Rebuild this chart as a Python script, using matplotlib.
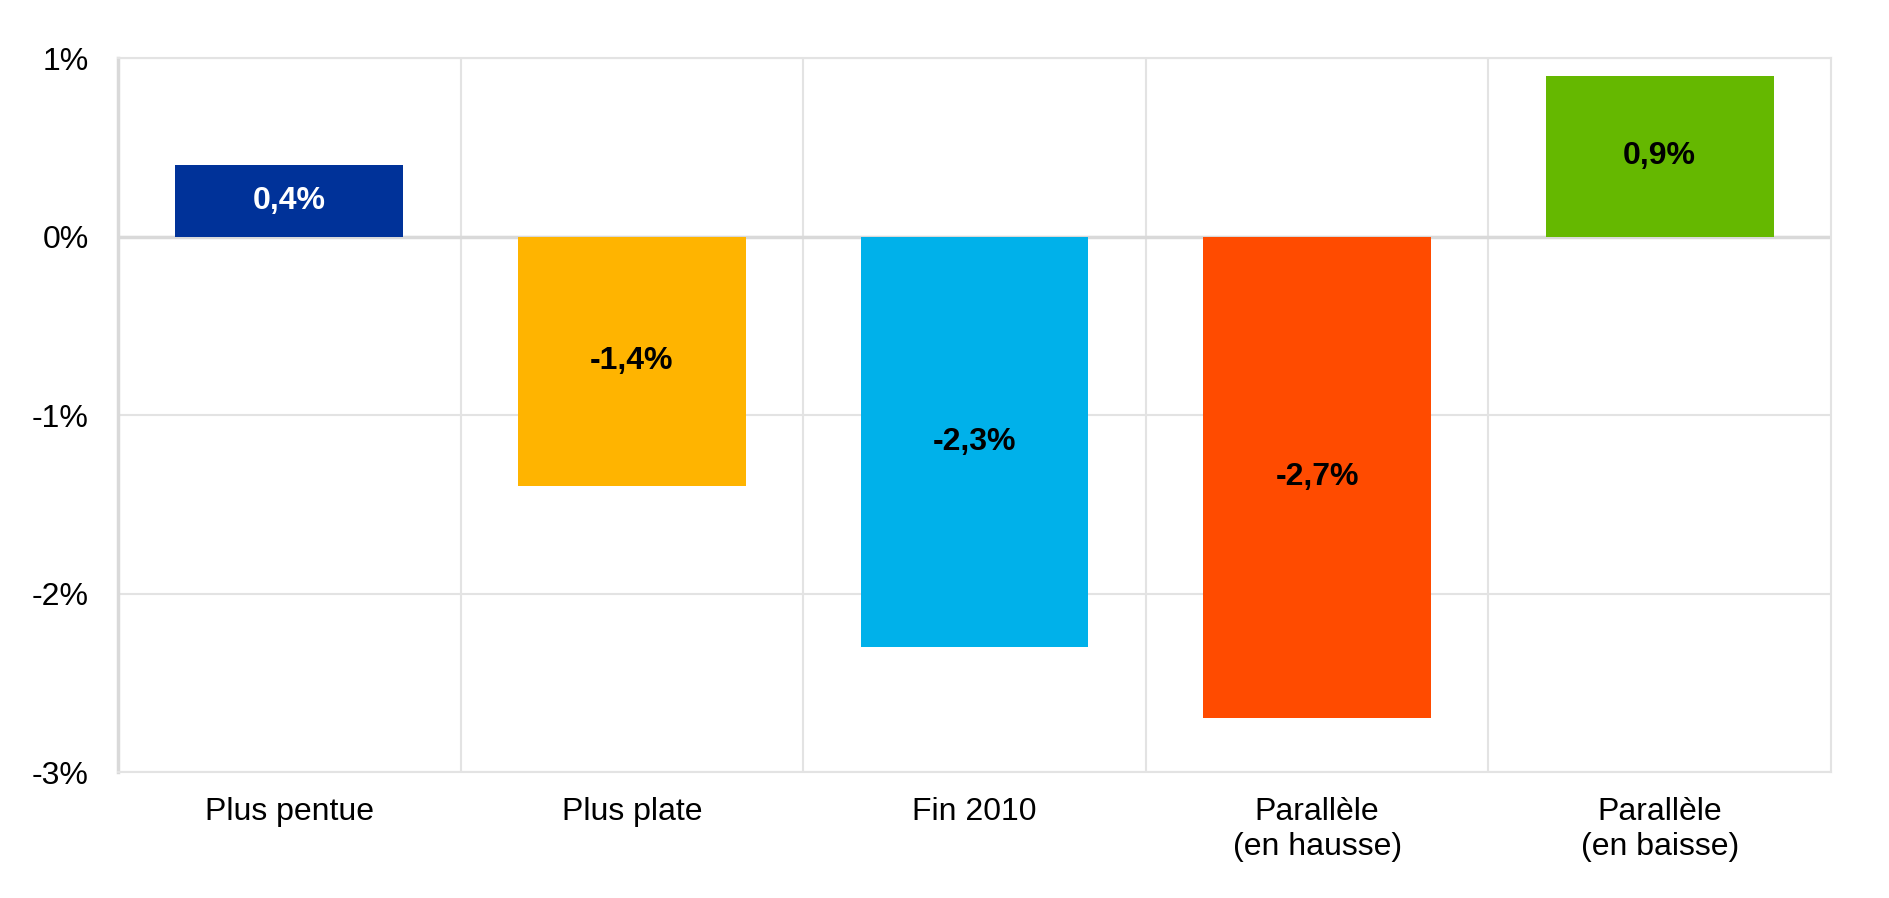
import matplotlib.pyplot as plt
import numpy as np

plt.rcParams['font.family'] = ['Liberation Sans', 'DejaVu Sans']

categories = ['Plus pentue', 'Plus plate', 'Fin 2010', 'Parallèle\n(en hausse)', 'Parallèle\n(en baisse)']
values = [0.4, -1.4, -2.3, -2.7, 0.9]
labels = ['0,4%', '-1,4%', '-2,3%', '-2,7%', '0,9%']
colors = ['#003299', '#FFB400', '#00B1EA', '#FF4B00', '#65B800']
label_colors = ['white', 'black', 'black', 'black', 'black']
yticks = [1, 0, -1, -2, -3]
ytick_labels = ['1%', '0%', '-1%', '-2%', '-3%']

fig = plt.figure(figsize=(18.9, 8.98), dpi=100)
ax = fig.add_axes([118 / 1890, 1 - 772 / 898, (1831 - 118) / 1890, (772 - 58) / 898])

x = np.arange(len(categories))
bars = ax.bar(x, values, width=0.665, color=colors, zorder=3)

for b, lab, c in zip(bars, labels, label_colors):
    ax.text(b.get_x() + b.get_width() / 2, b.get_y() + b.get_height() / 2, lab,
            ha='center', va='center', fontsize=23, fontweight='bold', color=c, zorder=4)

ax.set_xlim(-0.5, len(categories) - 0.5)
ax.set_ylim(-3, 1)
ax.set_yticks(yticks)
ax.set_yticklabels(ytick_labels)
ax.set_xticks(x)
ax.set_xticklabels(categories, linespacing=1.2)
ax.tick_params(axis='both', length=0, labelsize=23)
ax.tick_params(axis='y', pad=21)
ax.tick_params(axis='x', pad=18)

# grid: horizontal at ticks, vertical between categories
ax.set_axisbelow(True)
ax.grid(axis='y', color='#E3E3E3', linewidth=1.5, zorder=0)
for xb in np.arange(0.5, len(categories) - 0.5, 1):
    ax.axvline(xb, color='#E3E3E3', linewidth=1.5, zorder=0)
ax.axhline(0, color='#D9D9D9', linewidth=2.5, zorder=2)

for side in ['top', 'right', 'bottom']:
    ax.spines[side].set_color('#E3E3E3')
    ax.spines[side].set_linewidth(1.5)
ax.spines['left'].set_color('#D9D9D9')
ax.spines['left'].set_linewidth(2.5)

fig.savefig('out.png', dpi=100)
